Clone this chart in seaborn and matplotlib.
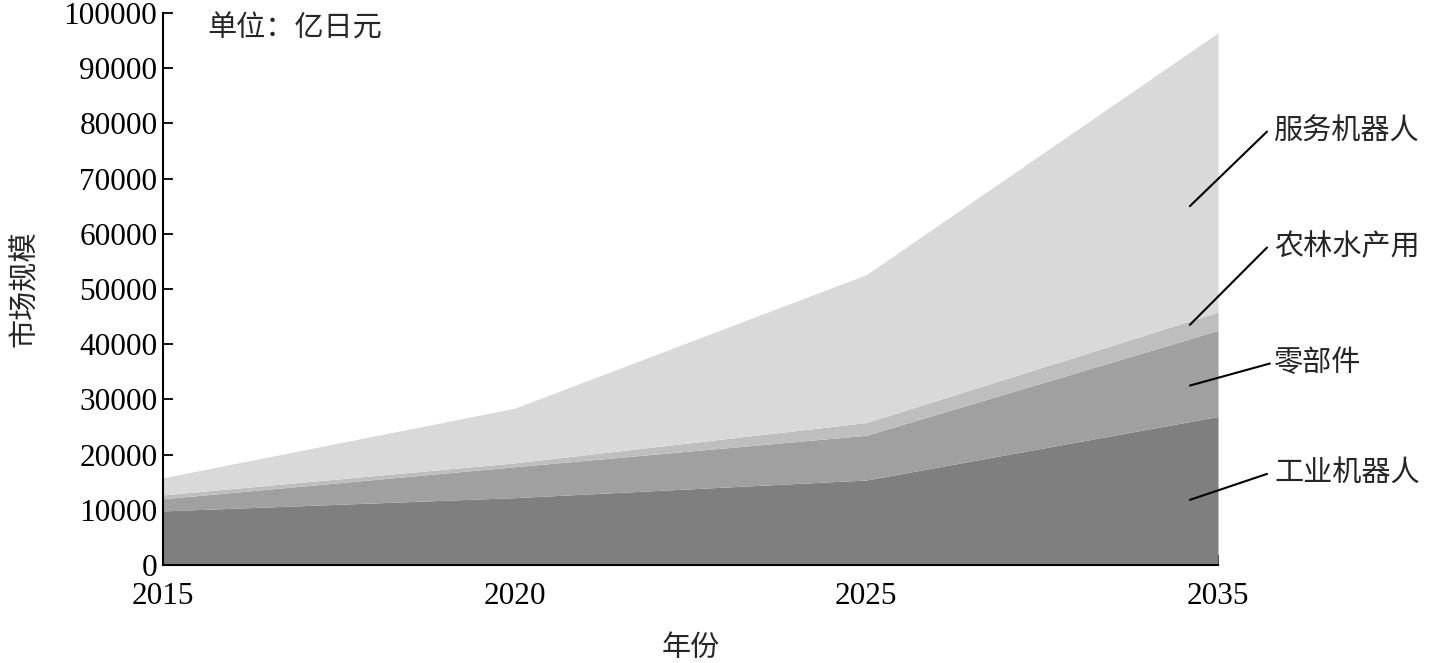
import matplotlib
matplotlib.use("Agg")
import matplotlib.pyplot as plt
import seaborn as sns
import numpy as np

years = ["2015", "2020", "2025", "2035"]
industrial = [9800, 12200, 15400, 26900]
parts = [2200, 5600, 8100, 15600]
agri = [700, 700, 2300, 3300]
service = [3100, 9900, 26800, 50600]
series_names = ["工业机器人", "零部件", "农林水产用", "服务机器人"]
colors = ["#7f7f7f", "#a0a0a0", "#bebebe", "#d9d9d9"]
yticks = list(range(0, 100001, 10000))

sns.set_theme(style="white")
fam = ["Liberation Serif", "Noto Sans CJK SC", "DejaVu Sans"]
plt.rcParams["font.family"] = fam

fig = plt.figure(figsize=(14.44, 6.63), dpi=100)
ax = fig.add_axes([0.1129, 0.1478, 0.8435 - 0.1129, 0.9805 - 0.1478])

x = np.arange(len(years))
ax.stackplot(x, industrial, parts, agri, service, colors=colors, linewidth=0)

ax.set_xlim(0, len(years) - 1)
ax.set_ylim(0, 100000)
ax.set_xticks(x)
ax.set_xticklabels(years)
ax.set_yticks(yticks)
ax.set_yticklabels([str(v) for v in yticks])
ax.tick_params(axis="both", direction="in", length=7, width=1.3, colors="black",
               labelsize=22.5, left=True, bottom=True)
ax.tick_params(axis="x", pad=12)
ax.tick_params(axis="y", pad=4)
for s in ["top", "right"]:
    ax.spines[s].set_visible(False)
for s in ["left", "bottom"]:
    ax.spines[s].set_color("black")
    ax.spines[s].set_linewidth(1.5)

ax.set_ylabel("市场规模", fontsize=21, labelpad=18)
ax.set_xlabel("年份", fontsize=21, labelpad=18)
ax.text(0.042, 0.995, "单位：亿日元", transform=ax.transAxes, fontsize=21,
        va="top", ha="left")

ann = [
    ("服务机器人", 65000, 78500),
    ("农林水产用", 43500, 57500),
    ("零部件", 32500, 36500),
    ("工业机器人", 11800, 16500),
]
for name, y0, y1 in ann:
    ax.annotate(name, xy=(2.92, y0), xytext=(3.16, y1),
                textcoords="data", fontsize=21, va="center", ha="left",
                annotation_clip=False,
                arrowprops=dict(arrowstyle="-", color="black", lw=1.5,
                                shrinkA=0, shrinkB=0, relpos=(-0.05, 0.5)))

fig.savefig("out.png", dpi=100)
